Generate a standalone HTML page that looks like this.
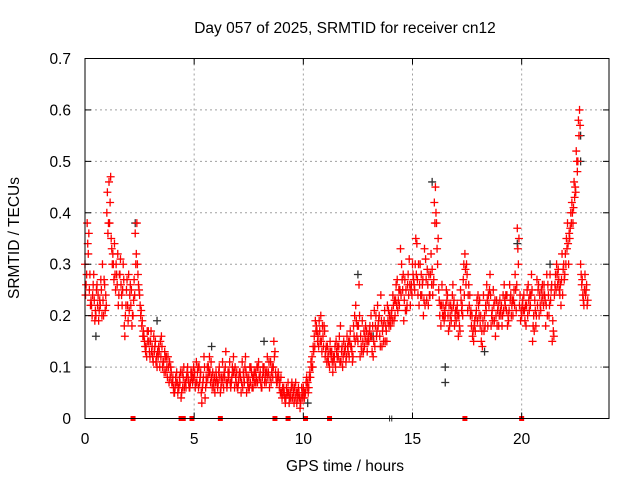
<!DOCTYPE html>
<html><head><meta charset="utf-8"><style>
body{margin:0;background:#fff}
svg{display:block;font-family:"Liberation Sans",Arial,sans-serif}
</style></head><body>
<svg id="chart" width="640" height="480" viewBox="0 0 640 480">
<rect width="640" height="480" fill="#fff"/>
<g id="grid"></g>
<g id="marks"></g>
<rect x="85" y="58.5" width="524" height="360" fill="none" stroke="#000" stroke-width="1"/>
<g id="ticks"></g>
<text x="345" y="33" font-size="15.5" text-anchor="middle">Day 057 of 2025, SRMTID for receiver cn12</text>
<text x="345" y="471" font-size="15.5" text-anchor="middle">GPS time / hours</text>
<text transform="translate(19,238) rotate(-90)" font-size="15.5" text-anchor="middle">SRMTID / TECUs</text>
</svg>
<script>
const xTicks=[0,5,10,15,20];
const yTicks=[0,0.1,0.2,0.3,0.4,0.5,0.6,0.7];
const yTickLabels=["0","0.1","0.2","0.3","0.4","0.5","0.6","0.7"];
const redA=[.30,.38,.25,.22,.28,.20,.24,.22,.30,.26,
.40,.46,.35,.30,.25,.32,.28,.22,.18,.25,
.28,.22,.20,.36,.30,.24,.18,.16,.14,.17,
.15,.12,.14,.10,.13,.16,.11,.09,.12,.08,
.07,.05,.09,.06,.04,.08,.07,.10,.06,.09,
.08,.11,.06,.09,.07,.04,.10,.12,.08,.06,
.09,.07,.05,.11,.08,.06,.09,.07,.12,.08,
.06,.09,.11,.07,.05,.08,.10,.06,.09,.07,
.08,.06,.10,.07,.09,.11,.08,.13,.07,.06,
.05,.06,.04,.07,.05,.04,.06,.03,.05,.04,
.06,.05,.07,.09,.12,.16,.18,.14,.20,.16,
.12,.14,.10,.13,.11,.15,.12,.18,.10,.13,
.16,.12,.14,.18,.22,.15,.12,.19,.14,.17,
.15,.20,.12,.18,.22,.16,.14,.19,.17,.21,
.18,.24,.20,.27,.22,.30,.19,.25,.28,.22,
.30,.25,.34,.22,.28,.20,.31,.26,.24,.29,
.42,.38,.25,.18,.22,.20,.24,.18,.21,.23,
.19,.16,.25,.20,.32,.28,.22,.18,.15,.20,
.24,.18,.14,.20,.26,.22,.18,.25,.16,.21,
.23,.18,.26,.21,.19,.24,.20,.28,.37,.22,
.20,.24,.18,.26,.22,.15,.23,.27,.20,.25,
.22,.18,.26,.28,.15,.24,.30,.27,.22,.29,
.32,.38,.35,.42,.46,.52,.58,.30,.24,.28,
.22];
const redB=[.26,.32,.22,.24,.19,.26,.21,.25,.20,.24,
.36,.42,.30,.34,.28,.24,.26,.30,.20,.22,
.24,.18,.27,.32,.26,.20,.16,.14,.17,.13,
.13,.16,.11,.12,.15,.10,.13,.10,.07,.09,
.06,.08,.05,.07,.09,.06,.08,.07,.09,.08,
.06,.09,.07,.03,.12,.08,.10,.07,.09,.05,
.07,.10,.08,.06,.13,.09,.07,.10,.06,.09,
.08,.05,.09,.12,.07,.10,.06,.09,.08,.11,
.07,.10,.08,.12,.06,.09,.15,.08,.09,.05,
.06,.04,.05,.03,.06,.05,.07,.04,.02,.05,
.04,.08,.06,.11,.14,.19,.15,.17,.13,.18,
.14,.11,.13,.09,.14,.12,.16,.13,.15,.11,
.13,.17,.11,.20,.16,.26,.14,.13,.18,.15,
.18,.13,.21,.16,.19,.24,.18,.15,.22,.20,
.21,.19,.26,.23,.33,.25,.27,.22,.31,.26,
.27,.35,.24,.30,.26,.33,.23,.28,.32,.26,
.45,.30,.20,.26,.19,.25,.17,.22,.26,.20,
.22,.18,.21,.30,.26,.24,.20,.16,.19,.23,
.20,.15,.24,.22,.18,.28,.21,.19,.23,.18,
.20,.24,.22,.18,.26,.22,.25,.21,.30,.19,
.23,.19,.25,.21,.28,.20,.18,.25,.22,.26,
.24,.28,.20,.25,.17,.28,.26,.24,.32,.27,
.35,.30,.40,.38,.45,.48,.60,.26,.22,.25];
const redC=[.24,.34,.28,.20,.23,.25,.19,.27,.23,.21,
.44,.38,.33,.27,.30,.22,.31,.25,.16,.27,
.21,.25,.23,.30,.28,.22,.19,.15,.12,.15,
.17,.11,.15,.13,.10,.14,.09,.12,.10,.10,
.08,.06,.07,.08,.05,.10,.06,.08,.07,.07,
.09,.07,.10,.05,.08,.06,.08,.09,.06,.08,
.08,.09,.06,.08,.10,.07,.11,.08,.09,.07,
.07,.08,.06,.10,.08,.06,.09,.08,.07,.10,
.09,.08,.07,.09,.11,.07,.10,.09,.08,.07,
.04,.05,.06,.05,.04,.06,.04,.05,.04,.06,
.05,.07,.05,.08,.10,.14,.17,.19,.15,.14,
.13,.12,.15,.11,.12,.13,.14,.11,.12,.14,
.14,.15,.13,.16,.19,.18,.16,.15,.16,.13,
.17,.16,.15,.20,.18,.14,.17,.21,.15,.18,
.20,.22,.23,.21,.25,.27,.23,.21,.24,.25,
.28,.30,.27,.26,.24,.23,.27,.22,.28,.24,
.38,.33,.23,.22,.20,.22,.20,.20,.24,.18,
.21,.20,.23,.27,.29,.21,.24,.20,.18,.21,
.22,.20,.19,.18,.23,.25,.20,.22,.20,.22,
.21,.20,.23,.24,.21,.20,.23,.25,.33,.24,
.22,.21,.22,.23,.24,.18,.21,.22,.24,.23,
.26,.22,.24,.23,.19,.26,.28,.25,.27,.30,
.30,.34,.37,.40,.43,.50,.55,.28,.23,.24,
.23];
const redD=[.28,.36,.23,.26,.21,.22,.23,.20,.27,.22,
.38,.47,.32,.28,.26,.28,.24,.27,.22,.19,
.26,.20,.24,.38,.25,.21,.17,.13,.15,.12,
.14,.13,.12,.14,.12,.11,.12,.08,.11,.07,
.05,.07,.06,.09,.06,.07,.09,.06,.08,.10,
.07,.10,.08,.06,.10,.07,.09,.11,.07,.07,
.06,.08,.07,.09,.07,.08,.06,.09,.10,.06,
.09,.07,.08,.09,.06,.07,.08,.07,.10,.08,
.06,.09,.09,.08,.08,.10,.12,.07,.08,.08,
.05,.03,.05,.04,.07,.03,.05,.06,.03,.04,
.05,.06,.08,.10,.13,.17,.16,.15,.18,.17,
.11,.13,.12,.12,.10,.14,.11,.14,.13,.12,
.15,.14,.12,.15,.18,.20,.13,.17,.15,.16,
.16,.18,.14,.17,.20,.19,.15,.18,.19,.19,
.19,.23,.22,.25,.24,.28,.21,.26,.26,.24,
.26,.28,.30,.24,.27,.22,.29,.24,.26,.27,
.40,.35,.22,.20,.21,.23,.22,.19,.22,.21,
.20,.17,.22,.24,.30,.26,.21,.17,.17,.19,
.23,.17,.17,.21,.24,.24,.19,.23,.18,.20,
.22,.21,.24,.20,.23,.23,.22,.26,.35,.21,
.21,.22,.20,.24,.25,.17,.20,.26,.21,.24,
.23,.20,.22,.26,.16,.25,.29,.26,.24,.28,
.33,.36,.38,.41,.44,.50,.57,.27,.25,.26];
const blackTimes=[0.5,2.3,5.8,8.2,12.5,15.9,16.5,16.5,18.3,19.8,22.7,22.7,13.2,10.2,3.3,21.3];
const blackVals=[.16,.38,.14,.15,.28,.46,.07,.10,.13,.34,.55,.50,.16,.03,.19,.30];
const zeroTimes=[2.2,4.4,4.5,4.9,6.2,8.7,9.3,10.1,11.2,17.4,20.0];
const zeroBlackTimes=[13.95,14.05];

const X0=85,X1=609,Y0=418.5,Y1=58.5,XMAX=24,YMAX=0.7;
const xs=t=>X0+(X1-X0)*t/XMAX;
const ys=v=>Y0-(Y0-Y1)*v/YMAX;
const NS="http://www.w3.org/2000/svg";
const mk=(tag,attrs,parent)=>{const e=document.createElementNS(NS,tag);for(const k in attrs)e.setAttribute(k,attrs[k]);parent.appendChild(e);return e;};
const grid=document.getElementById('grid'),ticks=document.getElementById('ticks'),marks=document.getElementById('marks');

xTicks.forEach(t=>{const x=xs(t);
 if(t>0){const g=mk('line',{x1:x,x2:x,y1:Y1,y2:Y0,stroke:'#a0a0a0','stroke-dasharray':'2,3'},grid);
 
 }
 const a=mk('line',{x1:x,x2:x,y1:Y0,y2:Y0-6,stroke:'#000'},ticks);
 
 
 const b=mk('line',{x1:x,x2:x,y1:Y1,y2:Y1+6,stroke:'#000'},ticks);
 
 
 const l=mk('text',{x:x,y:444,'font-size':15.5,'text-anchor':'middle'},ticks);l.textContent=String(t);
 
 
});
yTicks.forEach((v,i)=>{const y=ys(v);
 if(v>0&&v<YMAX){const g=mk('line',{x1:X0,x2:X1,y1:y,y2:y,stroke:'#a0a0a0','stroke-dasharray':'2,3'},grid);
 
 }
 const a=mk('line',{x1:X0,x2:X0+6,y1:y,y2:y,stroke:'#000'},ticks);
 
 
 const b=mk('line',{x1:X1,x2:X1-6,y1:y,y2:y,stroke:'#000'},ticks);
 
 
 const l=mk('text',{x:X0-14,y:y+5.5,'font-size':15.5,'text-anchor':'end'},ticks);l.textContent=yTickLabels[i];
 
 
});
function cross(t,v,col,name){const x=xs(t),y=ys(v);
 const p=mk('path',{d:`M${x-4},${y}H${x+4}M${x},${y-4}V${y+4}`,stroke:col,'stroke-width':1.3,fill:'none'},marks);
 
 }
blackTimes.forEach((t,i)=>cross(t,blackVals[i],'#303030','black-point'));
redA.forEach((v,i)=>cross(i*0.1,v,'#ff0000','red-point'));
redB.forEach((v,i)=>cross(i*0.1+0.05,v,'#ff0000','red-point'));
redC.forEach((v,i)=>cross(i*0.1+0.025,v,'#ff0000','red-point'));
redD.forEach((v,i)=>cross(i*0.1+0.075,v,'#ff0000','red-point'));
zeroTimes.forEach(t=>{const r=mk('rect',{x:xs(t)-2.5,y:Y0-2.5,width:5,height:5,fill:'#ff0000'},marks);
 
 });
zeroBlackTimes.forEach(t=>{const r=mk('line',{x1:xs(t),x2:xs(t),y1:Y0-3,y2:Y0+3,stroke:'#303030'},marks);
 
 });
</script>
</body></html>
